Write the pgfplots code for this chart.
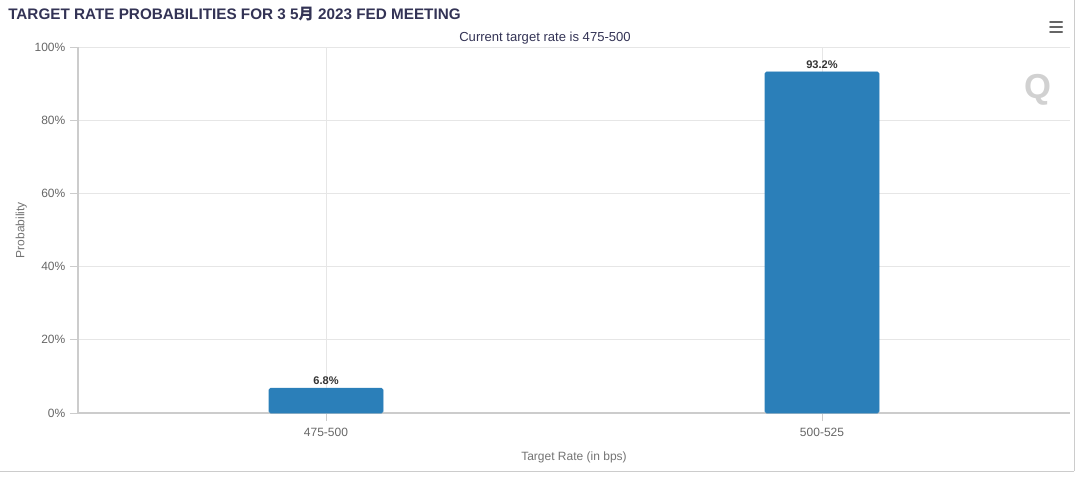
\documentclass[border=0pt]{standalone}
\usepackage{pgfplots}
\pgfplotsset{compat=1.18}
\usepackage{fontspec}
\setmainfont{Liberation Sans}
\newfontfamily\cjk{Noto Sans CJK SC}

\definecolor{barblue}{RGB}{43,127,185}
\definecolor{titlecol}{RGB}{51,51,85}
\definecolor{gridcol}{RGB}{230,230,230}
\definecolor{axcol}{RGB}{204,204,204}
\definecolor{lblcol}{RGB}{102,102,102}

\pgfplotstableread{
x  p
0  6.8
1  93.2
}\ratedata

\begin{document}
\begin{tikzpicture}[x=0.75pt,y=0.75pt]
\path[use as bounding box] (0,0) rectangle (1080,479);
\begin{axis}[
    at={(58.5pt,49.5pt)},
    anchor=south west,
    scale only axis,
    width=744pt,
    height=274.5pt,
    xmin=-0.5, xmax=1.5,
    ymin=0, ymax=100,
    xtick=data,
    xticklabels={475-500,500-525},
    ytick={0,20,40,60,80,100},
    yticklabel={\pgfmathprintnumber{\tick}\%},
    /pgf/number format/assume math mode=true,
    ticklabel style={font=\fontsize{9}{10}\selectfont, text=lblcol},
    xticklabel style={yshift=-2pt},
    xmajorgrids=true, ymajorgrids=true,
    grid style={gridcol, line width=0.6pt},
    axis x line*=bottom,
    axis y line*=left,
    axis line style={axcol, line width=0.8pt, -},
    tick style={axcol, line width=0.6pt},
    tick align=outside,
    major tick length=6pt,
    xlabel={Target Rate (in bps)},
    ylabel={Probability},
    label style={font=\fontsize{9}{10}\selectfont, text=black!55},
    xlabel style={yshift=-4pt},
    ylabel style={yshift=-1pt},
    ybar,
    bar width=85.5pt,
    nodes near coords={\pgfmathprintnumber[fixed,precision=1]{\pgfplotspointmeta}\%},
    nodes near coords style={font=\fontsize{8.3}{9}\selectfont\bfseries, text=black!80, yshift=-1pt},
]
\addplot[fill=barblue, draw=barblue, rounded corners=1.2pt] table[x=x, y=p] {\ratedata};
\end{axis}
% title and subtitle
\node[anchor=base west, font=\fontsize{11.45}{13}\selectfont\bfseries, text=titlecol, inner sep=0]
  at (8,459) {TARGET RATE PROBABILITIES FOR 3 5{\cjk 月} 2023 FED MEETING};
\node[anchor=base, font=\fontsize{9.8}{11}\selectfont, text=titlecol, inner sep=0]
  at (545,437) {Current target rate is 475-500};
% menu icon
\foreach \yy in {457,452,447}
  \draw[lblcol, line width=1.5pt, line cap=round] (1050,\yy) -- (1062,\yy);
% faint logo
\node[font=\fontsize{26}{28}\selectfont\bfseries, text=black!18, inner sep=0] at (1038,389) {Q};
% frame lines
\draw[axcol, line width=0.6pt] (0,8) -- (1074,8);
\draw[axcol, line width=0.6pt] (1074,8) -- (1074,479);
\end{tikzpicture}
\end{document}
